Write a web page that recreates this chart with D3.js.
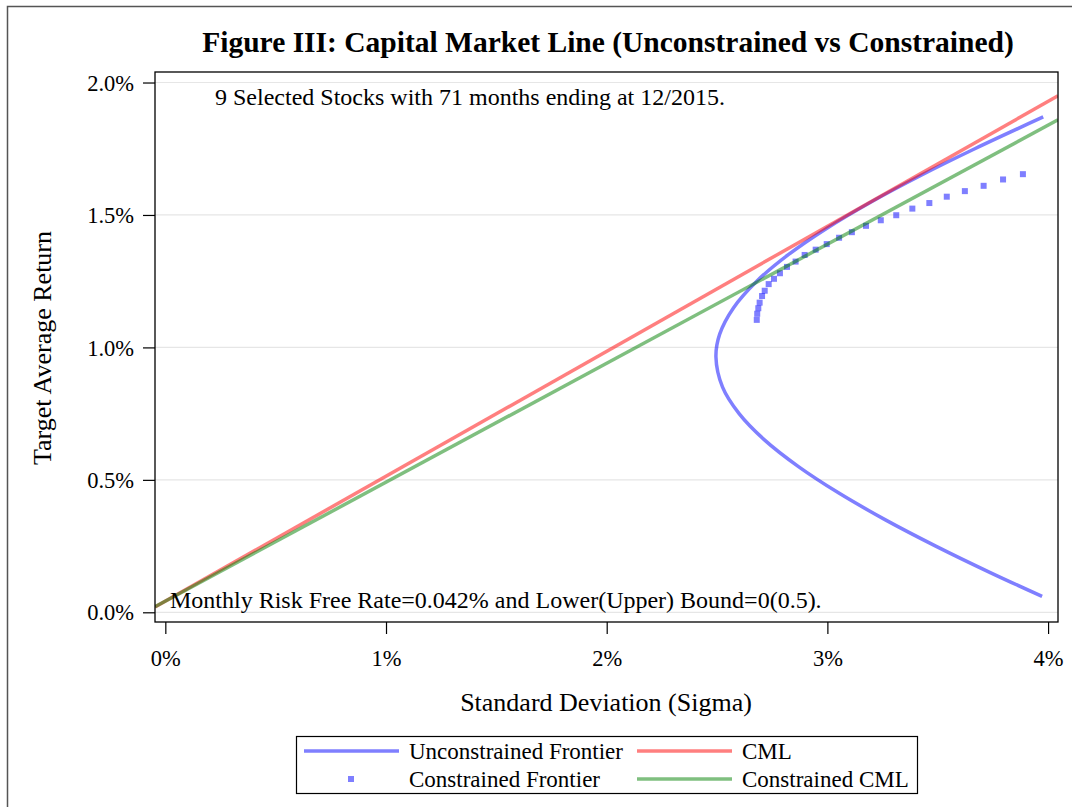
<!DOCTYPE html>
<html><head><meta charset="utf-8">
<script src="https://cdn.jsdelivr.net/npm/d3@7"></script>
<style>body{margin:0;background:#fff}svg{display:block}text{font-family:"Liberation Serif","Times New Roman",serif;fill:#000}</style>
</head><body><svg id="c" width="1072" height="807"></svg>
<script>
// ---- data (percent units) ----
const unconSigma = [3.973,3.738,3.491,3.261,3.052,2.869,2.716,2.600,2.525,2.495,2.512,2.575,2.680,2.823,2.998,3.200,3.425,3.668,3.978];
const unconReturn = [0.06,0.15,0.25,0.35,0.45,0.55,0.65,0.75,0.85,0.964,1.05,1.15,1.25,1.35,1.45,1.55,1.65,1.75,1.87];
const conSigma = [2.680,2.682,2.687,2.693,2.704,2.716,2.734,2.758,2.785,2.817,2.856,2.897,2.947,2.997,3.053,3.111,3.175,3.242,3.312,3.385,3.462,3.541,3.623,3.708,3.796,3.886];
const conReturn = [1.104,1.127,1.148,1.169,1.194,1.214,1.239,1.259,1.280,1.304,1.324,1.349,1.369,1.390,1.414,1.435,1.459,1.480,1.499,1.524,1.545,1.569,1.590,1.610,1.634,1.654];
const cmlSigma = [-0.0468, 4.045];
const cmlReturn = [0.020, 1.950];
const ccmlSigma = [-0.0468, 4.045];
const ccmlReturn = [0.021, 1.859];
const xTicks = [0,1,2,3,4];
const yTicks = [0,0.5,1.0,1.5,2.0];
const titleText = "Figure III: Capital Market Line (Unconstrained vs Constrained)";
const note1 = "9 Selected Stocks with 71 months ending at 12/2015.";
const note2 = "Monthly Risk Free Rate=0.042% and Lower(Upper) Bound=0(0.5).";
const legendItems = ["Unconstrained Frontier","CML","Constrained Frontier","Constrained CML"];

const svg = d3.select("#c");
const L=155,T=72,R=1058,B=622;
const x = d3.scaleLinear().domain([-0.0468,4.045]).range([L,R]);
const y = d3.scaleLinear().domain([-0.0366,2.0397]).range([B,T]);

const blue="rgba(0,0,255,0.5)", red="rgba(255,0,0,0.5)", green="rgba(0,128,0,0.5)";

// outer frame
svg.append("rect").attr("x",7.5).attr("y",6.5).attr("width",1100).attr("height",900)
  .attr("fill","none").attr("stroke","#555").attr("stroke-width",1.5);

// title
svg.append("text").attr("x",608).attr("y",52).attr("text-anchor","middle")
  .style("font-weight","bold").style("font-size","29.5px").text(titleText);

// grid
svg.append("g").selectAll("line").data(yTicks).join("line")
  .attr("x1",L).attr("x2",R).attr("y1",d=>y(d)).attr("y2",d=>y(d))
  .attr("stroke","#e6e6e6").attr("stroke-width",1.2);

// clip
svg.append("clipPath").attr("id","pc").append("rect").attr("x",L).attr("y",T).attr("width",R-L).attr("height",B-T);
const g = svg.append("g").attr("clip-path","url(#pc)");

const line = d3.line().x(d=>x(d[0])).y(d=>y(d[1]));
const lineS = d3.line().x(d=>x(d[0])).y(d=>y(d[1])).curve(d3.curveCatmullRom);

g.append("path").datum(unconSigma.map((s,i)=>[s,unconReturn[i]])).attr("d",lineS)
  .attr("fill","none").attr("stroke",blue).attr("stroke-width",3.5);
g.append("g").selectAll("rect").data(conSigma.map((s,i)=>[s,conReturn[i]])).join("rect")
  .attr("x",d=>x(d[0])-3).attr("y",d=>y(d[1])-3).attr("width",6).attr("height",6).attr("fill",blue);
g.append("path").datum(cmlSigma.map((s,i)=>[s,cmlReturn[i]])).attr("d",line)
  .attr("fill","none").attr("stroke",red).attr("stroke-width",3.5);
g.append("path").datum(ccmlSigma.map((s,i)=>[s,ccmlReturn[i]])).attr("d",line)
  .attr("fill","none").attr("stroke",green).attr("stroke-width",3.5);

// frame of plot
svg.append("rect").attr("x",L).attr("y",T).attr("width",R-L).attr("height",B-T)
  .attr("fill","none").attr("stroke","#000").attr("stroke-width",1.3);

// axes
const xa = svg.append("g").attr("transform",`translate(0,${B})`)
  .call(d3.axisBottom(x).tickValues(xTicks).tickFormat(d=>d+"%").tickSize(12));
const ya = svg.append("g").attr("transform",`translate(${L},0)`)
  .call(d3.axisLeft(y).tickValues(yTicks).tickFormat(d=>d3.format(".1f")(d)+"%").tickSize(12));
[xa,ya].forEach(a=>{a.select(".domain").remove();
  a.selectAll(".tick line").attr("stroke","#000").attr("stroke-width",1.2);
  a.selectAll(".tick text").style("font-size","22.5px").style("font-family",'"Liberation Serif",serif').attr("fill","#000");});
xa.selectAll(".tick text").attr("y",44).attr("dy",null);
ya.selectAll(".tick text").attr("x",-21).attr("dy","0.34em");

// axis labels
svg.append("text").attr("x",606).attr("y",711).attr("text-anchor","middle").style("font-size","26px").text("Standard Deviation (Sigma)");
svg.append("text").attr("transform","translate(51,348) rotate(-90)").attr("text-anchor","middle").style("font-size","26px").text("Target Average Return");

// notes
svg.append("text").attr("x",215).attr("y",105).style("font-size","24px").text(note1);
svg.append("text").attr("x",170).attr("y",608).style("font-size","24px").text(note2);

// legend
svg.append("rect").attr("x",296.5).attr("y",736.5).attr("width",621).attr("height",57)
  .attr("fill","none").attr("stroke","#000").attr("stroke-width",1.2);
const lg = svg.append("g");
const cols=[304,637], rows=[751,779], colors=[blue,red,blue,green];
legendItems.forEach((t,i)=>{
  const cx=cols[i%2], cy=rows[Math.floor(i/2)];
  if(i===2){ lg.append("rect").attr("x",cx+44).attr("y",cy-3).attr("width",6).attr("height",6).attr("fill",colors[i]); }
  else lg.append("line").attr("x1",cx).attr("x2",cx+95).attr("y1",cy).attr("y2",cy).attr("stroke",colors[i]).attr("stroke-width",3.5);
  lg.append("text").attr("x",cx+105).attr("y",cy+8).style("font-size","23px").text(t);
});
</script></body></html>
